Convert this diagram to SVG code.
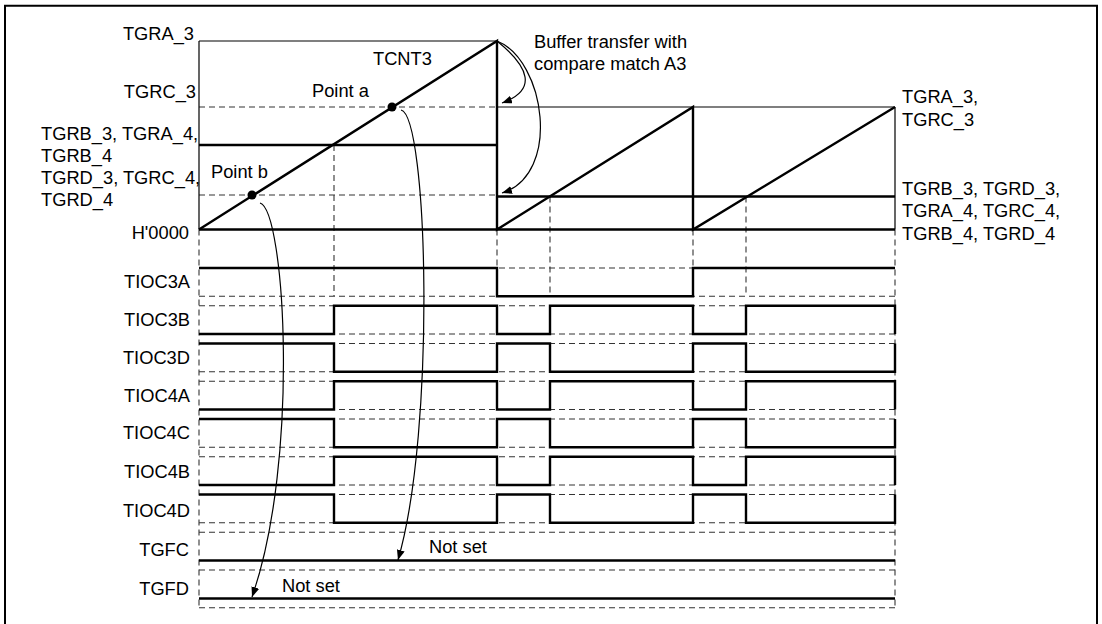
<svg xmlns="http://www.w3.org/2000/svg" width="1102" height="624" viewBox="0 0 1102 624">
<style>
text{font-family:"Liberation Sans",Arial,sans-serif;font-size:18.3px;fill:#000}
.e{text-anchor:end}
.thin{fill:none;stroke:#000;stroke-width:1.2}
.thick{fill:none;stroke:#000;stroke-width:2.4}
.dash{fill:none;stroke:#333;stroke-width:1.1;stroke-dasharray:6,4}
.conn{fill:none;stroke:#000;stroke-width:1.2}
</style>
<defs>
<marker id="ah" markerUnits="userSpaceOnUse" markerWidth="10" markerHeight="8" refX="10" refY="4" orient="auto">
<path d="M0,0 L10,4 L0,8 z" fill="#000"/>
</marker>
</defs>
<rect width="1102" height="624" fill="#fff"/>
<path id="frame" d="M5,630 V5.8 H1097 V630" fill="none" stroke="#000" stroke-width="2"/>

<g id="grid">
<path class="dash" d="M199,107 H497 M199,195 H497"/>
<path class="dash" d="M334,145 V296 M550,196.5 V296 M746,196.5 V296 M497,229.5 V268 M693,229.5 V268 M199,229.5 V608 M895,229.5 V608"/>
<path class="dash" d="M199,268 H895 M199,296.25 H895 M199,305.75 H895 M199,334 H895 M199,343.5 H895 M199,371.75 H895 M199,381.25 H895 M199,409.5 H895 M199,419 H895 M199,447.25 H895 M199,456.75 H895 M199,485 H895 M199,494.5 H895 M199,522.75 H895 M199,532.25 H895 M199,570 H895 M199,607.75 H895"/>
</g>

<g id="counter">
<path class="thin" d="M199,41 H497 M199,41 V229.5 M497,107 H895 M895,107 V229.5"/>
<path class="thick" d="M199,145 H497 M199,229.5 H895 M497,196.5 H895"/>
<path class="thick" d="M199,229.5 L497,41 V229.5 L693,107 V229.5 L895,107"/>
<circle id="pointA" cx="392" cy="107" r="4.5" fill="#000"/>
<circle id="pointB" cx="252" cy="195" r="4.5" fill="#000"/>
</g>

<g id="waveforms">
<path id="w-tioc3a" class="thick" d="M199,268 H497 V296.25 H693 V268 H895"/>
<path id="w-tioc3b" class="thick" d="M199,334 H334 V305.75 H497 V334 H550 V305.75 H693 V334 H746 V305.75 H895 V334"/>
<path id="w-tioc3d" class="thick" d="M199,343.5 H334 V371.75 H497 V343.5 H550 V371.75 H693 V343.5 H746 V371.75 H895 V343.5"/>
<path id="w-tioc4a" class="thick" d="M199,409.5 H334 V381.25 H497 V409.5 H550 V381.25 H693 V409.5 H746 V381.25 H895 V409.5"/>
<path id="w-tioc4c" class="thick" d="M199,419 H334 V447.25 H497 V419 H550 V447.25 H693 V419 H746 V447.25 H895 V419"/>
<path id="w-tioc4b" class="thick" d="M199,485 H334 V456.75 H497 V485 H550 V456.75 H693 V485 H746 V456.75 H895 V485"/>
<path id="w-tioc4d" class="thick" d="M199,494.5 H334 V522.75 H497 V494.5 H550 V522.75 H693 V494.5 H746 V522.75 H895 V494.5"/>
<path id="w-tgfc" class="thick" d="M199,560.5 H895"/>
<path id="w-tgfd" class="thick" d="M199,598.5 H895"/>
</g>

<g id="labels">
<text class="e" x="194" y="40">TGRA_3</text>
<text class="e" x="196" y="98">TGRC_3</text>
<text x="41" y="139.5">TGRB_3, TGRA_4,</text>
<text x="41" y="161.5">TGRB_4</text>
<text x="41" y="183.5">TGRD_3, TGRC_4,</text>
<text x="41" y="205.5">TGRD_4</text>
<text class="e" x="189" y="239">H'0000</text>
<text x="373" y="65">TCNT3</text>
<text x="312" y="97">Point a</text>
<text x="211" y="178">Point b</text>
<text x="534" y="48">Buffer transfer with</text>
<text x="534" y="70">compare match A3</text>
<text x="902" y="103">TGRA_3,</text>
<text x="902" y="126">TGRC_3</text>
<text x="902" y="195">TGRB_3, TGRD_3,</text>
<text x="902" y="217">TGRA_4, TGRC_4,</text>
<text x="902" y="239.5">TGRB_4, TGRD_4</text>
<text class="e" x="190" y="288">TIOC3A</text>
<text class="e" x="190" y="325.5">TIOC3B</text>
<text class="e" x="190" y="364">TIOC3D</text>
<text class="e" x="190" y="402">TIOC4A</text>
<text class="e" x="190" y="439">TIOC4C</text>
<text class="e" x="190" y="478">TIOC4B</text>
<text class="e" x="190" y="516.5">TIOC4D</text>
<text class="e" x="189" y="555.5">TGFC</text>
<text class="e" x="189" y="594.5">TGFD</text>
<text x="429" y="553">Not set</text>
<text x="282" y="592">Not set</text>
</g>

<g id="connectors">
<path class="conn" marker-end="url(#ah)" d="M497,41 C529,67 538,90 502,103"/>
<path class="conn" marker-end="url(#ah)" d="M497,41 C545,60 562,174 502,193"/>
<path class="conn" marker-end="url(#ah)" d="M401,110 C428,116 436,430 398,560"/>
<path class="conn" marker-end="url(#ah)" d="M260,203 C285,210 300,460 252,597"/>
</g>
</svg>
